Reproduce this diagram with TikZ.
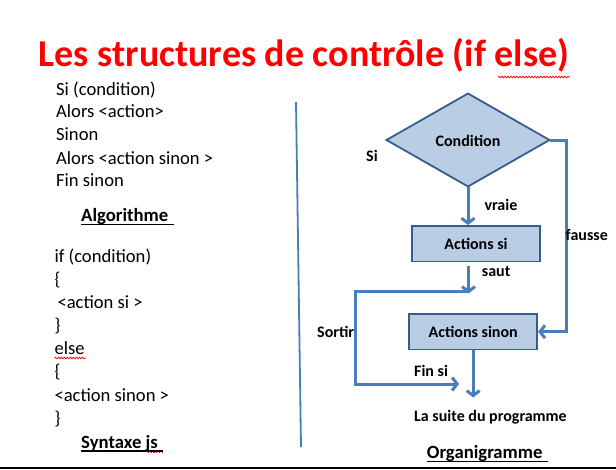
\documentclass[tikz,border=0pt]{standalone}
\usepackage{fontspec}
\setmainfont{Carlito}
\usetikzlibrary{shapes.geometric,arrows.meta,decorations.pathmorphing}

\definecolor{flowblue}{HTML}{4A7EBB}
\definecolor{boxfill}{HTML}{B9CDE5}
\definecolor{boxline}{HTML}{385D8A}
\definecolor{baseline}{HTML}{46648C}

\tikzset{
  body/.style={anchor=base west, inner sep=0pt, font=\fontsize{18.6}{22}\selectfont},
  caption/.style={anchor=base west, inner sep=0pt, font=\fontsize{18.7}{22}\selectfont\bfseries},
  lbl/.style={anchor=base west, inner sep=0pt, font=\fontsize{16}{19}\selectfont\bfseries},
  stepbox/.style={draw=boxline, fill=boxfill, line width=1.8pt, inner sep=0pt,
    minimum width=128pt, minimum height=35.5pt, font=\fontsize{16}{19}\selectfont\bfseries},
  decision/.style={diamond, draw=boxline, fill=boxfill, line width=1.8pt, inner sep=0pt,
    outer sep=0pt, minimum width=163pt, minimum height=93pt, font=\fontsize{16}{19}\selectfont\bfseries},
  flow/.style={draw=flowblue, line width=3pt},
  flowarrow/.style={flow, -{Straight Barb[length=5pt,width=13pt]}},
  uline/.style={line width=1.3pt},
  spell/.style={red, line width=0.7pt, decorate,
    decoration={snake, amplitude=0.9pt, segment length=3pt}}
}

\begin{document}
\begin{tikzpicture}[x=1pt, y=-1pt]
\useasboundingbox (0,0) rectangle (616,469);

% title
\node[anchor=base, inner sep=0pt, text=red, font=\fontsize{38}{45}\selectfont\bfseries]
  (title) at (304,66.5) {Les structures de contrôle (if else)};
\draw[spell] (498,77) -- (570,77);

% algorithm in words
\node[body] (a1) at (56,95)    {Si (condition)};
\node[body] (a2) at (56,117.7) {Alors <action>};
\node[body] (a3) at (56,140.7) {Sinon};
\node[body] (a4) at (56,164)   {Alors <action sinon >};
\node[body] (a5) at (56,186.7) {Fin sinon};
\node[caption] (algo) at (81,221) {Algorithme};
\draw[uline] (81,224.3) -- (174,224.3);

% JavaScript syntax
\node[body] (s1) at (54.3,262)   {if (condition)};
\node[body] (s2) at (54.3,285.3) {\{};
\node[body] (s3) at (57.3,308.5) {<action si >};
\node[body] (s4) at (54.3,331.6) {\}};
\node[body] (s5) at (54.3,354.4) {else};
\draw[spell] (54.5,358) -- (86,358);
\node[body] (s6) at (54.3,377.7) {\{};
\node[body] (s7) at (54.3,401)   {<action sinon >};
\node[body] (s8) at (54.3,424.3) {\}};
\node[caption] (syn) at (81,448) {Syntaxe js};
\draw[uline] (81,451) -- (162.7,451);
\draw[red, line width=0.8pt, dash pattern=on 1.2pt off 1.5pt] (148,452.5) -- (162.7,452.5);

% divider
\coordinate (divTop) at (296,102);
\coordinate (divBot) at (301,447);
\draw[flowblue, line width=1.8pt] (divTop) -- (divBot);

% flowchart
\node[decision] (cond) at (468,140) {};
\node[anchor=base, inner sep=0pt, font=\fontsize{16}{19}\selectfont\bfseries] (condtxt) at (468,146.5) {Condition};
\node[stepbox] (si) at (476,243.7) {Actions si};
\node[stepbox] (sinon) at (473.2,331.7) {Actions sinon};

\coordinate (sautTop) at (468.5,266);
\coordinate (sautTip) at (468.5,293.5);
\coordinate (joinPt) at (468,291);
\coordinate (loopTop) at (355,291);
\coordinate (finsiTip) at (459,384);
\coordinate (suite) at (473.2,397.5);
\coordinate (rightX) at (566,141);

\draw[flowarrow] (cond.south) -- (cond.south |- si.north);
\draw[flowarrow] (sautTop) -- (sautTip);
\draw[flowarrow, line join=miter] (joinPt) -- (loopTop) |- (finsiTip);
\draw[flowarrow] (sinon.south) -- (suite);
\draw[flowarrow, line join=miter] (cond.east) -| (rightX |- sinon.east) -- (sinon.east);

% flowchart labels
\node[lbl] (lsi) at (366,161) {Si};
\node[lbl] (lvraie) at (484.3,210) {vraie};
\node[lbl] (lfausse) at (565.5,240.5) {fausse};
\node[lbl] (lsaut) at (481.7,276.7) {saut};
\node[lbl] (lsortir) at (317,337) {Sortir};
\node[lbl] (lfinsi) at (414,376.7) {Fin si};
\node[lbl] (lsuite) at (414,421.7) {La suite du programme};
\node[caption] (orga) at (426.7,458.3) {Organigramme};
\draw[uline] (426.7,461.7) -- (548,461.7);

% bottom rule
\coordinate (ruleL) at (0,468);
\coordinate (ruleR) at (616,468);
\draw[baseline, line width=1.8pt] (ruleL) -- (ruleR);
\end{tikzpicture}
\end{document}
